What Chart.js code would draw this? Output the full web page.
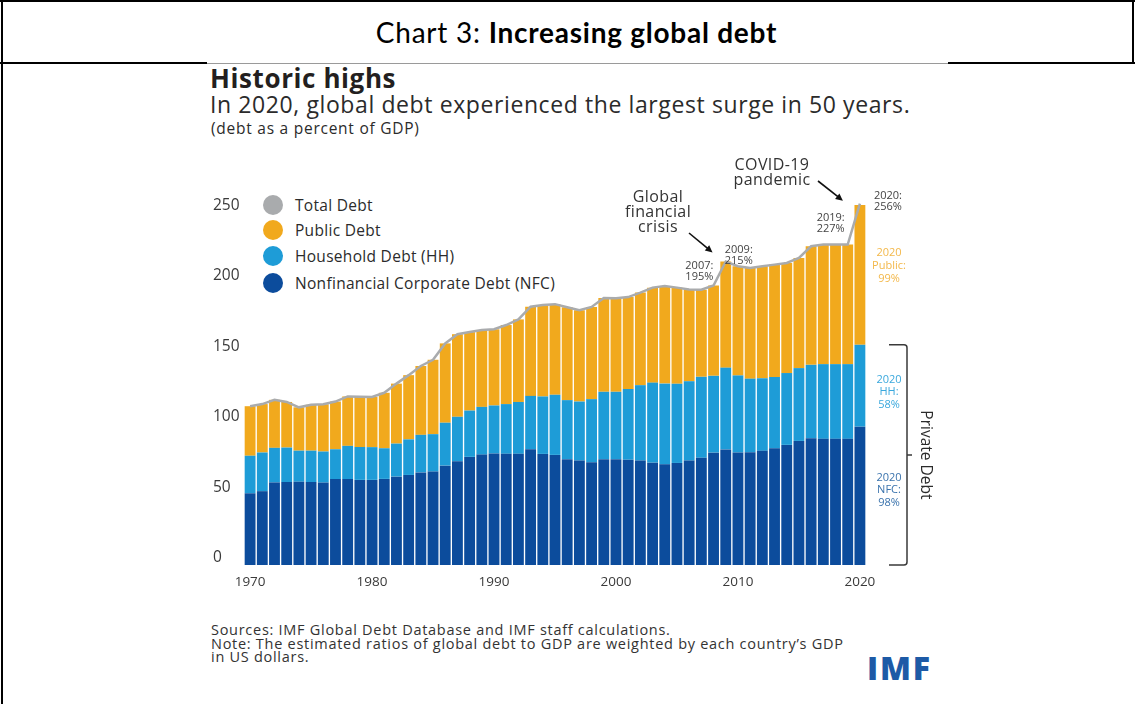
<!DOCTYPE html>
<html>
<head>
<meta charset="utf-8">
<script src="https://cdn.jsdelivr.net/npm/chart.js@4"></script>
<style>
  html, body { margin: 0; padding: 0; background: #fff; }
  body { width: 1135px; height: 704px; position: relative; overflow: hidden; font-family: "Open Sans", sans-serif; }
  .abs { position: absolute; white-space: nowrap; }
  .rule { position: absolute; background: #000; }
  #header { left: 9px; width: 1135px; top: 13px; text-align: center; font-family: Lato, sans-serif; font-size: 28px; line-height: 38px; color: #000; letter-spacing: 0.75px; }
  #header b { font-weight: 700; }
  #title { left: 210px; top: 61px; font-size: 26px; font-weight: 700; line-height: 34px; color: #231f20; letter-spacing: 0.6px; }
  #subtitle { left: 210px; top: 88px; font-size: 23px; line-height: 32px; color: #2b2b2b; letter-spacing: 0.6px; }
  #unit { left: 211px; top: 118px; font-size: 15.5px; line-height: 20px; color: #2b2b2b; letter-spacing: 0.75px; }
  #legend { left: 263px; top: 194px; }
  .item { position: absolute; left: 0; height: 22px; }
  .dot { position: absolute; left: 0; top: 1px; width: 20px; height: 20px; border-radius: 50%; }
  .lbl { position: absolute; left: 32px; top: 0; font-size: 15.5px; line-height: 22px; color: #2b2b2b; letter-spacing: 0.3px; }
  #footer { left: 211px; top: 623px; font-size: 14.5px; line-height: 13.6px; color: #333; letter-spacing: 0.72px; }
  #logo { left: 867px; top: 651px; font-size: 32px; font-weight: 800; line-height: 34px; color: #1d5aa6; letter-spacing: 1.8px; }
  canvas { position: absolute; left: 0; top: 0; }
</style>
</head>
<body>
<div class="rule" style="left:0;top:0;width:1135px;height:2px"></div>
<div class="rule" style="left:1px;top:0;width:2px;height:704px"></div>
<div class="rule" style="left:1132px;top:0;width:2px;height:64px"></div>
<div class="rule" style="left:0;top:62px;width:207px;height:2px"></div>
<div class="rule" style="left:948px;top:62px;width:187px;height:2px"></div>
<div class="rule" style="left:207px;top:63px;width:741px;height:1px;background:#9a9a9a"></div>

<div id="header" class="abs">Chart 3: <b>Increasing global debt</b></div>
<div id="title" class="abs">Historic highs</div>
<div id="subtitle" class="abs">In 2020, global debt experienced the largest surge in 50 years.</div>
<div id="unit" class="abs">(debt as a percent of GDP)</div>
<div id="legend" class="abs"></div>
<div id="footer" class="abs">Sources: IMF Global Debt Database and IMF staff calculations.<br>Note: The estimated ratios of global debt to GDP are weighted by each country’s GDP<br>in US dollars.</div>
<div id="logo" class="abs">IMF</div>

<canvas id="chart" width="1135" height="704"></canvas>

<script>
// Global debt, percent of GDP, 1970–2020
const years = ['1970','1971','1972','1973','1974','1975','1976','1977','1978','1979',
  '1980','1981','1982','1983','1984','1985','1986','1987','1988','1989',
  '1990','1991','1992','1993','1994','1995','1996','1997','1998','1999',
  '2000','2001','2002','2003','2004','2005','2006','2007','2008','2009',
  '2010','2011','2012','2013','2014','2015','2016','2017','2018','2019','2020'];

const decadeLabels = ['1970','1980','1990','2000','2010','2020'];
const yTicks = [0, 50, 100, 150, 200, 250];

// Nonfinancial corporate debt
const nfc = [50.8,52.3,58.5,58.8,59.0,58.8,58.4,60.9,60.9,60.3,
  60.3,61.0,62.6,63.8,65.6,66.2,70.4,73.5,76.6,78.2,
  79.0,78.8,78.8,82.0,78.7,78.0,75.0,74.0,72.8,75.0,
  75.0,74.6,74.0,72.5,71.3,72.3,74.0,76.0,79.6,81.9,
  79.7,79.9,80.9,82.7,85.1,87.9,89.8,89.4,89.4,89.4,98];

// Household debt
const hh = [26.6,27.4,24.5,24.4,22.0,22.2,22.0,21.1,23.5,23.3,
  23.2,21.7,23.4,25.2,26.6,26.5,30.4,31.5,32.8,33.8,
  34.0,35.2,36.7,37.8,40.7,42.6,41.8,41.8,44.7,47.7,
  47.7,50.1,53.4,56.7,57.2,56.1,56.2,57.3,54.4,57.9,
  54.6,52.1,51.4,50.5,50.9,51.6,52.0,52.9,52.9,52.9,58];

// Public debt
const publicDebt = [35.1,34.3,34.0,32.3,30.7,32.5,33.5,33.8,35.0,35.6,
  35.5,39.3,42.5,45.5,48.8,52.7,56.2,58.5,55.6,54.5,
  54.0,56.0,58.5,63.2,64.8,64.2,65.8,64.7,65.3,66.4,
  66.3,65.1,65.6,67.3,69.2,68.1,65.0,61.7,64.0,75.2,
  77.4,78.4,79.3,79.6,78.0,78.0,84.0,84.7,84.7,84.7,99];

// Total debt
const totalDebt = [112.5,114.0,117.0,115.5,111.7,113.5,113.9,115.8,119.4,119.2,
  119.0,122.0,128.5,134.5,141.0,145.4,157.0,163.5,165.0,166.5,
  167.0,170.0,174.0,183.0,184.2,184.8,182.6,180.5,182.8,189.1,
  189.0,189.8,193.0,196.5,197.7,196.5,195.2,195.0,198.0,215.0,
  211.7,210.4,211.6,212.8,214.0,217.5,225.8,227.0,227.0,227.0,256];

// Years called out on the total-debt line
const calloutYears = ['2007', '2009', '2019', '2020'];

const COLORS = {
  total: '#a9abad',
  publicDebt: '#f1a91d',
  hh: '#1e9cd7',
  nfc: '#0c4c9c',
  text: '#2b2b2b'
};

const seriesInfo = [
  { label: 'Total Debt', color: COLORS.total },
  { label: 'Public Debt', color: COLORS.publicDebt },
  { label: 'Household Debt (HH)', color: COLORS.hh },
  { label: 'Nonfinancial Corporate Debt (NFC)', color: COLORS.nfc }
];

// Legend
const legendEl = document.getElementById('legend');
const legendRows = [0, 25, 51, 78];
seriesInfo.forEach((s, i) => {
  const item = document.createElement('div');
  item.className = 'item';
  item.style.top = legendRows[i] + 'px';
  item.innerHTML = '<span class="dot" style="background:' + s.color + '"></span><span class="lbl">' + s.label + '</span>';
  legendEl.appendChild(item);
});

const FONT = '"Open Sans", sans-serif';

function arrow(ctx, x1, y1, x2, y2) {
  const ang = Math.atan2(y2 - y1, x2 - x1);
  const head = 8;
  ctx.save();
  ctx.strokeStyle = '#111';
  ctx.fillStyle = '#111';
  ctx.lineWidth = 1.6;
  ctx.beginPath();
  ctx.moveTo(x1, y1);
  ctx.lineTo(x2 - Math.cos(ang) * head * 0.8, y2 - Math.sin(ang) * head * 0.8);
  ctx.stroke();
  ctx.beginPath();
  ctx.moveTo(x2, y2);
  ctx.lineTo(x2 - head * Math.cos(ang - 0.45), y2 - head * Math.sin(ang - 0.45));
  ctx.lineTo(x2 - head * Math.cos(ang + 0.45), y2 - head * Math.sin(ang + 0.45));
  ctx.closePath();
  ctx.fill();
  ctx.restore();
}

function lines(ctx, arr, x, y, step) {
  arr.forEach((t, i) => ctx.fillText(t, x, y + i * step));
}

// Callouts, arrows and the private-debt bracket
const annotations = {
  id: 'annotations',
  afterDatasetsDraw(chart) {
    const ctx = chart.ctx;
    const xs = chart.scales.x, ys = chart.scales.y;
    const area = chart.chartArea;
    const xAt = (year) => xs.getPixelForValue(years.indexOf(year));
    const yAt = (v) => ys.getPixelForValue(v);
    ctx.save();
    ctx.textAlign = 'center';
    ctx.textBaseline = 'middle';

    // small value callouts
    ctx.font = '11px ' + FONT;
    ctx.fillStyle = '#444';
    const offs = {
      '2007': [-2, -24],
      '2009': [13, -12],
      '2019': [-17, -27],
      '2020': [28, -8]
    };
    calloutYears.forEach(yr => {
      const i = years.indexOf(yr);
      const v = totalDebt[i];
      const [dx, dy] = offs[yr];
      lines(ctx, [yr + ':', Math.round(v) + '%'], xAt(yr) + dx, yAt(v) + dy, 11);
    });

    // event labels
    ctx.font = '16px ' + FONT;
    ctx.fillStyle = '#333';
    if ('letterSpacing' in ctx) ctx.letterSpacing = '0.4px';
    lines(ctx, ['Global', 'financial', 'crisis'], 658, 197, 15);
    lines(ctx, ['COVID-19', 'pandemic'], 772, 165, 15);
    if ('letterSpacing' in ctx) ctx.letterSpacing = '0px';
    arrow(ctx, 689, 233, xAt('2008') - 1, yAt(totalDebt[38]) - 33);
    arrow(ctx, 818, 181, xAt('2020') - 17, yAt(totalDebt[50]) - 3);

    // 2020 breakdown
    const last = years.length - 1;
    const lx = area.right + 23;
    ctx.font = '11px ' + FONT;
    ctx.fillStyle = '#f3b84a';
    lines(ctx, ['2020', 'Public:', Math.round(publicDebt[last]) + '%'], lx, yAt(totalDebt[last]) + 49, 13);
    ctx.fillStyle = '#3aa8dd';
    lines(ctx, ['2020', 'HH:', Math.round(hh[last]) + '%'], lx, yAt(nfc[last] + hh[last]) + 35, 12.5);
    ctx.fillStyle = '#3a73ad';
    lines(ctx, ['2020', 'NFC:', Math.round(nfc[last]) + '%'], lx, yAt(nfc[last]) + 51, 12.5);

    // bracket spanning private debt
    const bx = area.right + 41;
    const top = yAt(nfc[last] + hh[last]);
    const bot = yAt(0);
    const mid = (top + bot) / 2;
    ctx.strokeStyle = '#3a3a3a';
    ctx.lineWidth = 1.5;
    ctx.beginPath();
    ctx.moveTo(bx - 18, top);
    ctx.lineTo(bx - 3, top);
    ctx.quadraticCurveTo(bx, top, bx, top + 3);
    ctx.lineTo(bx, bot - 3);
    ctx.quadraticCurveTo(bx, bot, bx - 3, bot);
    ctx.lineTo(bx - 18, bot);
    ctx.moveTo(bx, mid);
    ctx.lineTo(bx + 5, mid);
    ctx.stroke();

    ctx.save();
    ctx.translate(bx + 18, mid);
    ctx.rotate(Math.PI / 2);
    ctx.font = '15.5px ' + FONT;
    ctx.fillStyle = '#2b2b2b';
    ctx.fillText('Private Debt', 0, 0);
    ctx.restore();

    ctx.restore();
  }
};

const barCommon = { type: 'bar', stack: 'debt', order: 1, borderWidth: 0, barPercentage: 0.89, categoryPercentage: 1.0 };

new Chart(document.getElementById('chart'), {
  data: {
    labels: years,
    datasets: [
      { type: 'line', label: 'Total Debt', data: totalDebt, stack: 'total', order: 0,
        borderColor: COLORS.total, borderWidth: 2.5, pointRadius: 0, tension: 0, fill: false },
      Object.assign({ label: 'Nonfinancial Corporate Debt (NFC)', data: nfc, backgroundColor: COLORS.nfc }, barCommon),
      Object.assign({ label: 'Household Debt (HH)', data: hh, backgroundColor: COLORS.hh }, barCommon),
      Object.assign({ label: 'Public Debt', data: publicDebt, backgroundColor: COLORS.publicDebt }, barCommon)
    ]
  },
  options: {
    responsive: false,
    animation: false,
    devicePixelRatio: 1,
    layout: { padding: { left: 213, right: 269, top: 198, bottom: 109 } },
    plugins: { legend: { display: false }, tooltip: { enabled: false } },
    scales: {
      x: {
        stacked: true,
        grid: { display: false },
        border: { display: false },
        ticks: {
          autoSkip: false, maxRotation: 0, padding: 1,
          color: '#3a3a3a', font: { family: 'Open Sans', size: 13.5 },
          callback: function (val) {
            const y = this.getLabelForValue(val);
            return decadeLabels.includes(y) ? y : '';
          }
        },
        afterFit(scale) { scale.height = 30; }
      },
      y: {
        stacked: true,
        min: 0, max: 260,
        grid: { display: false },
        border: { display: false },
        afterBuildTicks(axis) { axis.ticks = yTicks.map(v => ({ value: v })); },
        ticks: {
          crossAlign: 'far', padding: 0, labelOffset: -7,
          color: '#3a3a3a', font: { family: 'Open Sans', size: 15.5 }
        },
        afterFit(scale) { scale.width = 31; }
      }
    }
  },
  plugins: [annotations]
});
</script>
</body>
</html>
